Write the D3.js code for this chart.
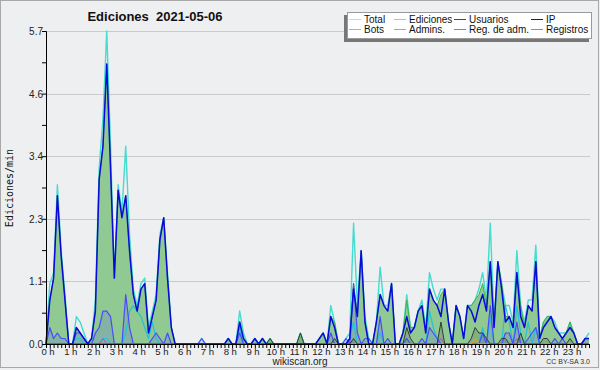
<!DOCTYPE html>
<html>
<head>
<meta charset="utf-8">
<script src="https://cdn.jsdelivr.net/npm/d3@7"></script>
<style>
body { margin: 0; background: #eeeff1; }
svg { display: block; font-family: "Liberation Sans", Arial, sans-serif; }
</style>
</head>
<body>
<script>
// one value every 10 minutes, edits per minute
var slots = d3.range(144).map(function (i) { return i / 6; });

var total = [
  0, 1.1, 1.3, 2.9, 1.7, 0.9,   0, 0, 0.5, 0.4, 0.2, 0,
  0.1, 0.8, 3.2, 4.1, 5.7, 3.6,   1.2, 2.9, 2.4, 3.6, 2.0, 1.0,
  0.7, 1.1, 1.2, 0.3, 0.6, 0.9,   2.0, 2.3, 1.3, 0.3, 0, 0,
  0, 0, 0, 0, 0, 0.1,   0, 0, 0, 0, 0, 0,
  0.1, 0, 0, 0.6, 0.2, 0,   0, 0.1, 0, 0.1, 0, 0.1,
  0, 0, 0, 0, 0, 0,   0, 0.2, 0, 0, 0, 0,
  0.1, 0.2, 0, 0.7, 0.4, 0,   0, 0.1, 0.2, 2.2, 0.7, 1.7,
  0.5, 0.1, 0, 0.4, 1.4, 0.7,   0.7, 1.1, 0, 0, 0.2, 0.9,
  0.3, 0.3, 0.6, 0.8, 0.3, 1.3,   1.0, 0.8, 1.0, 1.0, 0.4, 0,
  0.7, 0.5, 0.1, 0.7, 0.7, 0.8,   1.0, 1.3, 0.8, 2.2, 0.4, 1.5,
  1.1, 0.7, 0.7, 0.4, 1.7, 0.7,   0.4, 0.8, 0.8, 1.8, 0.1, 0.4,
  0.5, 0.5, 0.4, 0.2, 0.2, 0.2,   0.4, 0.2, 0, 0, 0.1, 0.2
];
var ediciones = [
  0, 0.8, 1.2, 2.7, 1.6, 0.8,   0, 0, 0.3, 0.2, 0.1, 0,
  0.1, 0.6, 3.0, 3.6, 5.1, 3.2,   1.2, 2.8, 2.3, 2.7, 1.7, 0.9,
  0.6, 1.0, 1.1, 0.2, 0.5, 0.8,   1.9, 2.3, 1.2, 0.3, 0, 0,
  0, 0, 0, 0, 0, 0,   0, 0, 0, 0, 0, 0,
  0.1, 0, 0, 0.4, 0.1, 0,   0, 0.1, 0, 0.1, 0, 0.1,
  0, 0, 0, 0, 0, 0,   0, 0.2, 0, 0, 0, 0,
  0.1, 0.2, 0, 0.5, 0.4, 0,   0, 0, 0.1, 1.1, 0.5, 1.7,
  0.4, 0, 0, 0.4, 0.9, 0.7,   0.6, 1.1, 0, 0, 0.2, 0.8,
  0.3, 0.3, 0.6, 0.7, 0.2, 1.0,   0.8, 0.7, 0.9, 1.0, 0.4, 0,
  0.7, 0.5, 0.1, 0.7, 0.7, 0.8,   0.9, 1.1, 0.7, 1.5, 0.3, 1.5,
  1.1, 0.5, 0.5, 0.3, 1.3, 0.7,   0.3, 0.7, 0.6, 1.5, 0.1, 0.4,
  0.5, 0.5, 0.3, 0.2, 0.1, 0.2,   0.4, 0.2, 0, 0, 0.1, 0.1
];
var usuarios = [
  0, 0.8, 1.2, 2.7, 1.6, 0.8,   0, 0, 0.3, 0.2, 0.1, 0,
  0.1, 0.6, 3.0, 3.6, 5.1, 3.2,   1.2, 2.8, 2.3, 2.7, 1.7, 0.9,
  0.6, 1.0, 1.1, 0.2, 0.5, 0.8,   1.9, 2.3, 1.2, 0.3, 0, 0,
  0, 0, 0, 0, 0, 0,   0, 0, 0, 0, 0, 0,
  0.1, 0, 0, 0.4, 0.1, 0,   0, 0.1, 0, 0.1, 0, 0,
  0, 0, 0, 0, 0, 0,   0, 0, 0, 0, 0, 0,
  0.1, 0.2, 0, 0.5, 0.3, 0,   0, 0, 0.1, 1.0, 0.5, 1.7,
  0.4, 0, 0, 0.4, 0.9, 0.7,   0.6, 1.1, 0, 0, 0.2, 0.5,
  0.2, 0.3, 0.6, 0.7, 0.2, 1.0,   0.8, 0.7, 0.5, 1.0, 0.4, 0,
  0.7, 0.5, 0.1, 0.7, 0.6, 0.4,   0.7, 0.9, 0.6, 1.5, 0.3, 1.5,
  1.0, 0.4, 0.5, 0.3, 1.3, 0.5,   0.3, 0.7, 0.6, 1.5, 0.1, 0.3,
  0.4, 0.5, 0.3, 0.2, 0.1, 0.2,   0.3, 0.2, 0, 0, 0.1, 0.1
];
var ip = [
  0, 0, 0, 0, 0, 0,   0, 0, 0, 0, 0, 0,
  0, 0, 0, 0, 0, 0,   0, 0, 0, 0, 0, 0,
  0, 0, 0, 0, 0, 0,   0, 0, 0, 0, 0, 0,
  0, 0, 0, 0, 0, 0,   0, 0, 0, 0, 0, 0,
  0, 0, 0, 0, 0, 0,   0, 0, 0, 0, 0, 0.1,
  0, 0, 0, 0, 0, 0,   0, 0.2, 0, 0, 0, 0,
  0, 0, 0, 0, 0.1, 0,   0, 0, 0, 0.1, 0, 0,
  0, 0, 0, 0, 0, 0,   0, 0, 0, 0, 0, 0.3,
  0.1, 0, 0, 0, 0, 0,   0, 0, 0.4, 0, 0, 0,
  0, 0, 0, 0, 0.1, 0.3,   0.2, 0.2, 0.1, 0, 0, 0,
  0.1, 0.1, 0, 0, 0, 0.2,   0, 0, 0, 0, 0, 0.1,
  0.1, 0, 0, 0, 0, 0,   0.1, 0, 0, 0, 0, 0
];
var bots = d3.range(144).map(function (i) { return i === 113 ? 0.1 : 0; });
var registros = [
  0, 0.3, 0.1, 0.2, 0.1, 0.1,   0, 0, 0.2, 0.2, 0.1, 0,
  0, 0.2, 0.3, 0.6, 0.6, 0.5,   0, 0, 0, 0.9, 0.3, 0,
  0, 0, 0, 0, 0.1, 0.2,   0.1, 0, 0.2, 0, 0, 0,
  0, 0, 0, 0, 0, 0.1,   0, 0, 0, 0, 0, 0,
  0, 0, 0, 0.2, 0, 0,   0, 0, 0, 0, 0, 0,
  0, 0, 0, 0, 0, 0,   0, 0, 0, 0, 0, 0,
  0, 0, 0, 0.2, 0, 0,   0, 0.1, 0, 1.1, 0.2, 0,
  0.1, 0.1, 0, 0, 0.5, 0,   0.1, 0, 0, 0, 0, 0.1,
  0, 0, 0, 0.1, 0, 0.3,   0.2, 0.1, 0, 0, 0, 0,
  0, 0, 0, 0, 0, 0,   0, 0.2, 0, 0.7, 0, 0,
  0, 0.2, 0.2, 0, 0.4, 0,   0, 0.1, 0.2, 0.3, 0, 0,
  0, 0, 0.1, 0, 0.1, 0,   0, 0, 0, 0, 0.1, 0.1
];
var admins = [
  0, 0, 0, 0, 0, 0,   0, 0, 0.1, 0.1, 0, 0,
  0, 0, 0, 0.1, 0.1, 0,   0, 0, 0, 0.2, 0.6, 0.7,
  0.6, 0.5, 0.3, 0.1, 0.4, 0.1,   0, 0, 0, 0, 0, 0,
  0, 0, 0, 0, 0, 0,   0, 0, 0, 0, 0, 0,
  0, 0, 0, 0.3, 0, 0,   0, 0, 0, 0, 0, 0,
  0, 0, 0, 0, 0, 0,   0, 0, 0, 0, 0, 0,
  0, 0, 0, 0, 0, 0,   0, 0, 0.1, 0.4, 0, 0,
  0, 0, 0, 0, 0.2, 0,   0, 0, 0, 0, 0, 0,
  0, 0, 0, 0, 0, 0.6,   0.3, 0.1, 0, 0, 0, 0,
  0, 0, 0, 0, 0, 0,   0, 0.3, 0, 0.5, 0, 0,
  0, 0.7, 0.4, 0, 0.7, 0.2,   0, 0.4, 0, 0.3, 0, 0,
  0, 0, 0, 0, 0, 0,   0, 0, 0, 0, 0, 0
];
var regAdm = d3.range(144).map(function (i) { return (i === 15 || i === 104 || i === 124) ? 0.1 : 0; });

var yTicks = [0, 1.14, 2.28, 3.42, 4.56, 5.7];
var hourLabels = d3.range(24);

var W = 600, H = 370;
var svg = d3.select("body").append("svg").attr("width", W).attr("height", H);

svg.append("rect").attr("x", 0.5).attr("y", 0.5).attr("width", W - 2).attr("height", H - 3)
  .attr("fill", "#eeeff1").attr("stroke", "#a8a8a8");

var x = d3.scaleLinear().domain([0, 143 / 6]).range([46, 589]);
var y = d3.scaleLinear().domain([0, 5.7]).range([344, 31]);

// grid
svg.append("g").selectAll("line").data(yTicks.slice(1)).enter().append("line")
  .attr("x1", 46).attr("x2", 590)
  .attr("y1", function (d) { return Math.round(y(d)) + 0.5; })
  .attr("y2", function (d) { return Math.round(y(d)) + 0.5; })
  .attr("stroke", "#c9cacc").attr("stroke-width", 1);

function ser(arr) { return arr.map(function (v, i) { return {t: slots[i], v: v}; }); }

var area = d3.area().x(function (d) { return x(d.t); }).y0(y(0)).y1(function (d) { return y(d.v); });
var line = d3.line().x(function (d) { return x(d.t); }).y(function (d) { return y(d.v); });

svg.append("path").datum(ser(ediciones)).attr("d", area).attr("fill", "#90c992");
svg.append("path").datum(ser(registros)).attr("d", area).attr("fill", "rgba(80,80,255,0.18)");
svg.append("path").datum(ser(ip)).attr("d", area).attr("fill", "rgba(0,0,0,0.12)");

var lines = [
  {d: total, c: "#44dccf", w: 1.4},
  {d: ediciones, c: "#45b045", w: 1},
  {d: admins, c: "#22c2d8", w: 1.2},
  {d: registros, c: "#4a4aff", w: 1.2},
  {d: regAdm, c: "#cc44cc", w: 1},
  {d: bots, c: "#ff9a22", w: 1},
  {d: ip, c: "#383838", w: 1},
  {d: usuarios, c: "#0a0ad8", w: 1.5}
];
lines.forEach(function (s) {
  svg.append("path").datum(ser(s.d)).attr("d", line)
    .attr("fill", "none").attr("stroke", s.c).attr("stroke-width", s.w)
    .attr("stroke-linejoin", "round");
});

// y axis
var yAxis = svg.append("g").attr("transform", "translate(46,0)")
  .call(d3.axisLeft(y).tickValues(yTicks).tickFormat(d3.format(".1f")).tickSize(4).tickSizeOuter(0));
svg.append("g").attr("transform", "translate(46,0)")
  .call(d3.axisLeft(y).tickValues(d3.range(5).map(function (i) { return (yTicks[i] + yTicks[i + 1]) / 2; }))
    .tickFormat("").tickSize(4).tickSizeOuter(0));

// x axis
var xAxis = svg.append("g").attr("transform", "translate(0,344)")
  .call(d3.axisBottom(x).tickValues(slots).tickFormat("").tickSize(4).tickSizeOuter(0));
svg.selectAll(".domain").attr("stroke", "#000");
svg.selectAll(".tick line").attr("stroke", "#000");
yAxis.selectAll("text").attr("font-size", 10).attr("fill", "#222").attr("x", -3).attr("dy", "0.35em")
  .style("font-family", "'Liberation Sans', Arial, sans-serif");

svg.append("g").selectAll("text").data(hourLabels).enter().append("text")
  .attr("x", function (d) { return x(d) + 2; }).attr("y", 355)
  .attr("text-anchor", "middle").attr("font-size", 9.5).attr("fill", "#222")
  .text(function (d) { return d + " h"; });

// titles
svg.append("text").attr("x", 155).attr("y", 21).attr("text-anchor", "middle")
  .attr("font-size", 13).attr("font-weight", "bold").attr("fill", "#111")
  .attr("xml:space", "preserve").text("Ediciones  2021-05-06");

svg.append("text").attr("transform", "translate(13,188) rotate(-90)").attr("text-anchor", "middle")
  .attr("font-size", 10).attr("fill", "#111").style("font-family", "'DejaVu Sans Mono', monospace")
  .text("Ediciones/min");

svg.append("text").attr("x", 300).attr("y", 365).attr("text-anchor", "middle")
  .attr("font-size", 10).attr("fill", "#222").text("wikiscan.org");
svg.append("text").attr("x", 590).attr("y", 364).attr("text-anchor", "end")
  .attr("font-size", 7).attr("fill", "#333").text("CC BY-SA 3.0");

// legend
var legend = [
  {n: "Total", c: "#a8e6e6", col: 0, row: 0},
  {n: "Ediciones", c: "#8fd88f", col: 1, row: 0},
  {n: "Usuarios", c: "#3838e0", col: 2, row: 0},
  {n: "IP", c: "#222222", col: 3, row: 0},
  {n: "Bots", c: "#ffa040", col: 0, row: 1},
  {n: "Admins.", c: "#50c8dc", col: 1, row: 1},
  {n: "Reg. de adm.", c: "#d050e0", col: 2, row: 1},
  {n: "Registros", c: "#8080ff", col: 3, row: 1}
];
var colX = [348, 393, 453, 530];
svg.append("rect").attr("x", 344).attr("y", 15).attr("width", 245).attr("height", 27).attr("fill", "#777");
svg.append("rect").attr("x", 347.5).attr("y", 12.5).attr("width", 244).attr("height", 26)
  .attr("fill", "#fff").attr("stroke", "#9a9a9a");
var lg = svg.append("g").selectAll("g").data(legend).enter().append("g")
  .attr("transform", function (d) { return "translate(" + colX[d.col] + "," + (19 + d.row * 10) + ")"; });
lg.append("line").attr("x1", 1).attr("x2", 13).attr("y1", 0.5).attr("y2", 0.5)
  .attr("stroke", function (d) { return d.c; }).attr("stroke-width", 1);
lg.append("text").attr("x", 16).attr("y", 4).attr("font-size", 10).attr("fill", "#111")
  .text(function (d) { return d.n; });
</script>
</body>
</html>
